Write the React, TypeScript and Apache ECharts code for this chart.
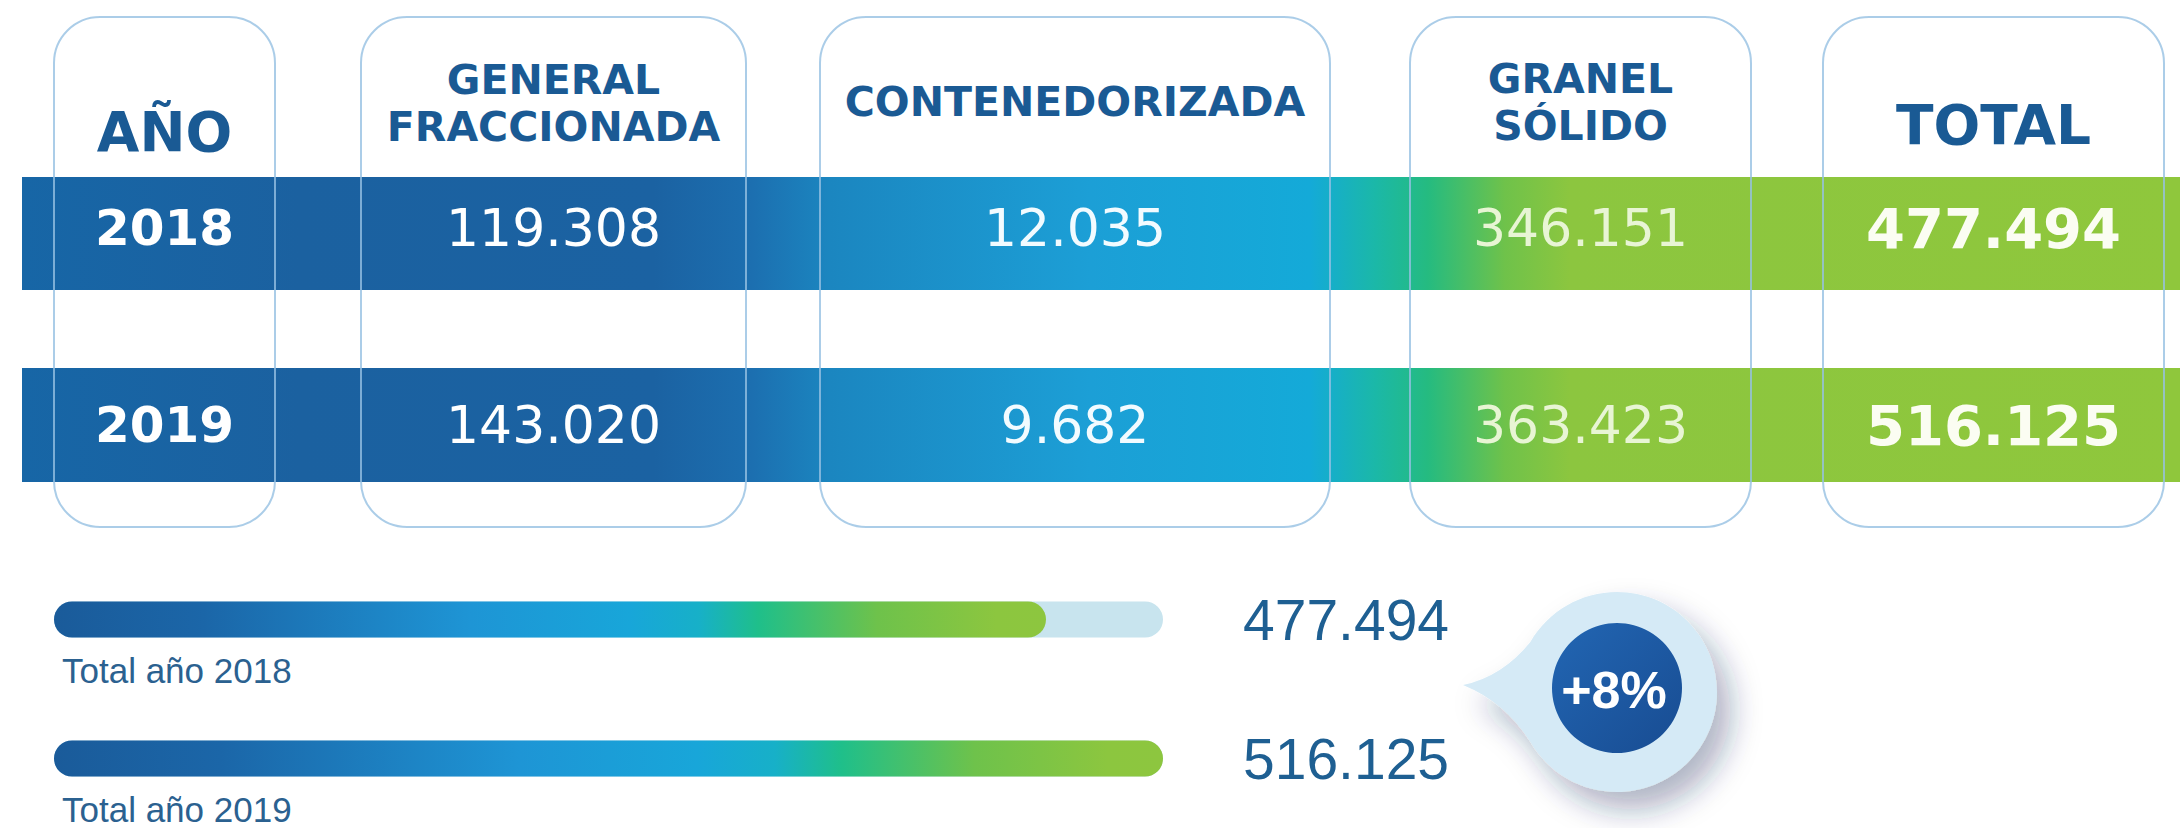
import React, { useEffect, useRef } from 'react';
import * as echarts from 'echarts';

// ---------- data ----------
const headers = ['AÑO', 'GENERAL\nFRACCIONADA', 'CONTENEDORIZADA', 'GRANEL\nSÓLIDO', 'TOTAL'];
const years = ['2018', '2019'];
const generalFraccionada = [119308, 143020];
const contenedorizada = [12035, 9682];
const granelSolido = [346151, 363423];
const totals = [477494, 516125];
const totalLabels = ['Total año 2018', 'Total año 2019'];

const fmt = (n: number) => String(n).replace(/\B(?=(\d{3})+(?!\d))/g, '.');

// ---------- layout ----------
const COLS = [
  { x: 54, w: 221 },
  { x: 361, w: 385 },
  { x: 820, w: 510 },
  { x: 1410, w: 341 },
  { x: 1823, w: 341 },
];
const HEADER_Y = [132, 103.5, 102, 102.5, 125];
const HEADER_SIZE = [55, 41, 41, 41, 55];
const BOX_TOP = 17;
const BOX_BOTTOM = 527;
const BANDS = [
  { y: 177, h: 113, textY: 228 },
  { y: 368, h: 114, textY: 425 },
];
const BAND_X = 22;
const BAND_W = 2180 - BAND_X;

echarts.graphic.registerShape(
  'bubble',
  echarts.graphic.extendPath(
    'M -154 -7 Q -115 -15 -86.6 -50 C -68.73 -80.94 -35.73 -100 0 -100 C 55.23 -100 100 -55.23 100 0 C 100 55.23 55.23 100 0 100 C -35.73 100 -68.73 80.94 -86.6 50 Q -112 10 -154 -7 Z',
    {}
  ) as any
);

export default function App() {
  const ref = useRef<HTMLDivElement>(null);
  useEffect(() => {
    document.body.style.margin = '0';
    const chart = echarts.init(ref.current as HTMLDivElement, null, { renderer: 'svg' });

    const bandStopsGlobal: [number, string][] = [
      [BAND_X, '#1766a6'],
      [300, '#1b61a0'],
      [654, '#1b62a2'],
      [752, '#1c6fb0'],
      [830, '#1b86c0'],
      [1090, '#1c9fd6'],
      [1310, '#14aad8'],
      [1375, '#1bb8a8'],
      [1428, '#25bb80'],
      [1505, '#6fc24a'],
      [1570, '#8cc63f'],
      [2180, '#8fc73c'],
    ];
    const bandStops = bandStopsGlobal.map(([x, c]) => ({ offset: (x - BAND_X) / BAND_W, color: c }));

    const graphics: any[] = [];
    BANDS.forEach((b) => {
      graphics.push({
        type: 'rect',
        shape: { x: BAND_X, y: b.y, width: BAND_W, height: b.h },
        style: { fill: new echarts.graphic.LinearGradient(0, 0, 1, 0, bandStops) },
      });
    });
    COLS.forEach((c) => {
      graphics.push({
        type: 'rect',
        shape: { x: c.x, y: BOX_TOP, width: c.w, height: BOX_BOTTOM - BOX_TOP, r: 46 },
        style: { fill: 'none', stroke: 'rgba(150,192,226,0.8)', lineWidth: 2 },
      });
    });
    headers.forEach((h, i) => {
      graphics.push({
        type: 'text',
        x: COLS[i].x + COLS[i].w / 2,
        y: HEADER_Y[i],
        style: {
          text: h,
          fill: '#1a5a94',
          fontFamily: 'DejaVu Sans',
          fontWeight: 'bold',
          fontSize: HEADER_SIZE[i],
          lineHeight: 47,
          align: 'center',
          verticalAlign: 'middle',
        },
      });
    });
    const rowCells = years.map((y, r) => [
      { text: y, bold: true, size: 50, fill: '#ffffff' },
      { text: fmt(generalFraccionada[r]), bold: false, size: 52, fill: '#ffffff' },
      { text: fmt(contenedorizada[r]), bold: false, size: 52, fill: '#f2fbff' },
      { text: fmt(granelSolido[r]), bold: false, size: 52, fill: '#e8f5d4' },
      { text: fmt(totals[r]), bold: true, size: 56, fill: '#fbfdf2' },
    ]);
    rowCells.forEach((cells, r) => {
      cells.forEach((cell, i) => {
        graphics.push({
          type: 'text',
          x: COLS[i].x + COLS[i].w / 2,
          y: BANDS[r].textY,
          style: {
            text: cell.text,
            fill: cell.fill,
            fontFamily: 'DejaVu Sans',
            fontWeight: cell.bold ? 'bold' : 'normal',
            fontSize: cell.size,
            align: 'center',
            verticalAlign: 'middle',
          },
        });
      });
    });
    // bottom labels
    const labelY = [670, 809];
    totalLabels.forEach((t, i) => {
      graphics.push({
        type: 'text',
        x: 62,
        y: labelY[i],
        style: {
          text: t,
          fill: '#2b6190',
          fontFamily: 'Liberation Sans',
          fontSize: 35,
          align: 'left',
          verticalAlign: 'middle',
        },
      });
    });
    // bubble
    const pct = Math.round((totals[1] / totals[0] - 1) * 100);
    graphics.push({
      type: 'bubble',
      x: 1617,
      y: 692,
      shape: {},
      style: {
        fill: '#d5eaf6',
        shadowBlur: 30,
        shadowColor: 'rgba(20,40,90,0.35)',
        shadowOffsetX: 14,
        shadowOffsetY: 18,
      },
    });
    graphics.push({
      type: 'circle',
      shape: { cx: 1617, cy: 688, r: 65 },
      style: {
        fill: new echarts.graphic.LinearGradient(0, 0, 1, 1, [
          { offset: 0, color: '#2266b3' },
          { offset: 1, color: '#184c92' },
        ]),
      },
    });
    graphics.push({
      type: 'text',
      x: 1614,
      y: 690,
      style: {
        text: (pct >= 0 ? '+' : '') + pct + '%',
        fill: '#ffffff',
        fontFamily: 'Liberation Sans',
        fontWeight: 'bold',
        fontSize: 52,
        align: 'center',
        verticalAlign: 'middle',
      },
    });

    const barGradient = new echarts.graphic.LinearGradient(0, 0, 1, 0, [
      { offset: 0, color: '#1a5b9a' },
      { offset: 0.15, color: '#1b66a8' },
      { offset: 0.42, color: '#1e95d5' },
      { offset: 0.58, color: '#18a6d9' },
      { offset: 0.65, color: '#17b0c8' },
      { offset: 0.71, color: '#1fbf8a' },
      { offset: 0.83, color: '#6ec24b' },
      { offset: 0.95, color: '#8cc63f' },
      { offset: 1, color: '#8dc63f' },
    ]);

    const option: any = {
      animation: false,
      backgroundColor: '#ffffff',
      grid: { left: 54, top: 550, width: 1109, height: 282 },
      xAxis: { type: 'value', min: 150000, max: totals[1], startValue: 150000, show: false },
      yAxis: [
        { type: 'category', data: years, inverse: true, show: false },
        {
          type: 'category',
          data: years,
          inverse: true,
          position: 'right',
          axisLine: { show: false },
          axisTick: { show: false },
          axisLabel: {
            margin: 80,
            formatter: (_v: string, idx: number) => fmt(totals[idx]),
            fontFamily: 'Liberation Sans',
            fontSize: 57,
            color: '#1e5f92',
            align: 'left',
          },
        },
      ],
      series: [
        {
          type: 'bar',
          yAxisIndex: 0,
          data: totals,
          barWidth: 36,
          showBackground: true,
          backgroundStyle: { color: '#c8e4ee', borderRadius: 18 },
          itemStyle: { color: barGradient, borderRadius: 18 },
        },
      ],
      graphic: graphics,
    };
    chart.setOption(option);
    return () => chart.dispose();
  }, []);
  return <div ref={ref} style={{ width: 2180, height: 828 }} />;
}
